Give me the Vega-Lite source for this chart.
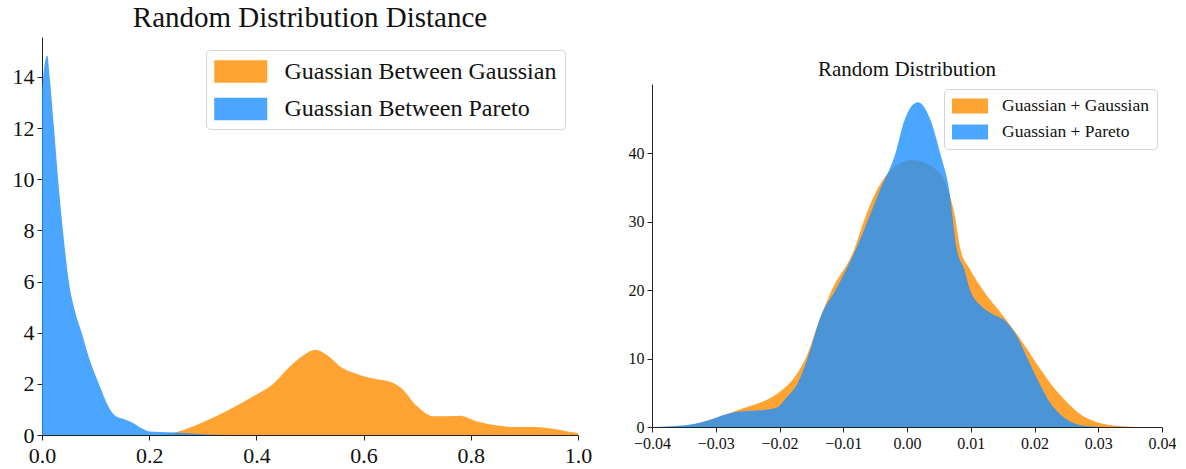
{
  "$schema": "https://vega.github.io/schema/vega-lite/v6.json",
  "background": "white",
  "padding": {"left": 12, "top": 4, "right": 0, "bottom": 0},
  "spacing": 36,
  "config": {
    "font": "Liberation Serif",
    "view": {"stroke": null},
    "axis": {"grid": false, "domainColor": "#222", "tickColor": "#222", "labelColor": "#111", "labelFont": "Liberation Serif", "tickSize": 5, "labelPadding": 3, "title": null, "labelFlush": false},
    "legend": {"labelFont": "Liberation Serif", "labelColor": "#111", "strokeColor": "#d4d4d4", "cornerRadius": 4, "fillColor": "white", "symbolType": "M-1,-0.84L3,-0.84L3,0.84L-1,0.84Z", "symbolOpacity": 0.8, "symbolStrokeWidth": 0, "labelLimit": 500},
    "title": {"font": "Liberation Serif", "fontWeight": "normal", "color": "#111", "baseline": "bottom"}
  },
  "datasets": {
    "left": [
      {"x": 0.22, "density": 0, "series": "Guassian Between Gaussian"},
      {"x": 0.24, "density": 0.05, "series": "Guassian Between Gaussian"},
      {"x": 0.27, "density": 0.24, "series": "Guassian Between Gaussian"},
      {"x": 0.30, "density": 0.5, "series": "Guassian Between Gaussian"},
      {"x": 0.35, "density": 1.0, "series": "Guassian Between Gaussian"},
      {"x": 0.40, "density": 1.58, "series": "Guassian Between Gaussian"},
      {"x": 0.43, "density": 1.97, "series": "Guassian Between Gaussian"},
      {"x": 0.46, "density": 2.63, "series": "Guassian Between Gaussian"},
      {"x": 0.49, "density": 3.15, "series": "Guassian Between Gaussian"},
      {"x": 0.51, "density": 3.33, "series": "Guassian Between Gaussian"},
      {"x": 0.53, "density": 3.15, "series": "Guassian Between Gaussian"},
      {"x": 0.56, "density": 2.63, "series": "Guassian Between Gaussian"},
      {"x": 0.59, "density": 2.37, "series": "Guassian Between Gaussian"},
      {"x": 0.62, "density": 2.2, "series": "Guassian Between Gaussian"},
      {"x": 0.65, "density": 2.08, "series": "Guassian Between Gaussian"},
      {"x": 0.67, "density": 1.84, "series": "Guassian Between Gaussian"},
      {"x": 0.70, "density": 1.12, "series": "Guassian Between Gaussian"},
      {"x": 0.73, "density": 0.73, "series": "Guassian Between Gaussian"},
      {"x": 0.76, "density": 0.73, "series": "Guassian Between Gaussian"},
      {"x": 0.78, "density": 0.75, "series": "Guassian Between Gaussian"},
      {"x": 0.81, "density": 0.54, "series": "Guassian Between Gaussian"},
      {"x": 0.85, "density": 0.37, "series": "Guassian Between Gaussian"},
      {"x": 0.88, "density": 0.31, "series": "Guassian Between Gaussian"},
      {"x": 0.92, "density": 0.31, "series": "Guassian Between Gaussian"},
      {"x": 0.95, "density": 0.25, "series": "Guassian Between Gaussian"},
      {"x": 0.98, "density": 0.14, "series": "Guassian Between Gaussian"},
      {"x": 1.0, "density": 0.08, "series": "Guassian Between Gaussian"},
      {"x": 0.0, "density": 13.5, "series": "Guassian Between Pareto"},
      {"x": 0.005, "density": 14.5, "series": "Guassian Between Pareto"},
      {"x": 0.01, "density": 14.84, "series": "Guassian Between Pareto"},
      {"x": 0.0143, "density": 14.0, "series": "Guassian Between Pareto"},
      {"x": 0.0224, "density": 12.0, "series": "Guassian Between Pareto"},
      {"x": 0.030, "density": 10.0, "series": "Guassian Between Pareto"},
      {"x": 0.039, "density": 8.0, "series": "Guassian Between Pareto"},
      {"x": 0.050, "density": 6.0, "series": "Guassian Between Pareto"},
      {"x": 0.062, "density": 4.8, "series": "Guassian Between Pareto"},
      {"x": 0.074, "density": 4.0, "series": "Guassian Between Pareto"},
      {"x": 0.088, "density": 3.0, "series": "Guassian Between Pareto"},
      {"x": 0.106, "density": 2.0, "series": "Guassian Between Pareto"},
      {"x": 0.127, "density": 1.0, "series": "Guassian Between Pareto"},
      {"x": 0.138, "density": 0.73, "series": "Guassian Between Pareto"},
      {"x": 0.156, "density": 0.6, "series": "Guassian Between Pareto"},
      {"x": 0.17, "density": 0.47, "series": "Guassian Between Pareto"},
      {"x": 0.185, "density": 0.27, "series": "Guassian Between Pareto"},
      {"x": 0.2, "density": 0.14, "series": "Guassian Between Pareto"},
      {"x": 0.22, "density": 0.12, "series": "Guassian Between Pareto"},
      {"x": 0.25, "density": 0.1, "series": "Guassian Between Pareto"},
      {"x": 0.28, "density": 0.06, "series": "Guassian Between Pareto"},
      {"x": 0.31, "density": 0.02, "series": "Guassian Between Pareto"},
      {"x": 0.35, "density": 0.0, "series": "Guassian Between Pareto"}
    ],
    "right": [
      {"x": -0.04, "density": 0, "series": "Guassian + Gaussian"},
      {"x": -0.0375, "density": 0.05, "series": "Guassian + Gaussian"},
      {"x": -0.034, "density": 0.3, "series": "Guassian + Gaussian"},
      {"x": -0.0311, "density": 1.0, "series": "Guassian + Gaussian"},
      {"x": -0.0282, "density": 1.9, "series": "Guassian + Gaussian"},
      {"x": -0.0258, "density": 2.7, "series": "Guassian + Gaussian"},
      {"x": -0.0229, "density": 3.6, "series": "Guassian + Gaussian"},
      {"x": -0.0200, "density": 5.1, "series": "Guassian + Gaussian"},
      {"x": -0.0171, "density": 8.0, "series": "Guassian + Gaussian"},
      {"x": -0.0159, "density": 10.0, "series": "Guassian + Gaussian"},
      {"x": -0.0135, "density": 16.2, "series": "Guassian + Gaussian"},
      {"x": -0.0118, "density": 20.0, "series": "Guassian + Gaussian"},
      {"x": -0.0083, "density": 25.9, "series": "Guassian + Gaussian"},
      {"x": -0.0068, "density": 30.0, "series": "Guassian + Gaussian"},
      {"x": -0.0054, "density": 33.3, "series": "Guassian + Gaussian"},
      {"x": -0.0034, "density": 36.6, "series": "Guassian + Gaussian"},
      {"x": 0.0008, "density": 39.0, "series": "Guassian + Gaussian"},
      {"x": 0.0052, "density": 37.1, "series": "Guassian + Gaussian"},
      {"x": 0.0064, "density": 34.7, "series": "Guassian + Gaussian"},
      {"x": 0.0075, "density": 30.9, "series": "Guassian + Gaussian"},
      {"x": 0.0084, "density": 25.9, "series": "Guassian + Gaussian"},
      {"x": 0.0099, "density": 23.0, "series": "Guassian + Gaussian"},
      {"x": 0.0119, "density": 20.0, "series": "Guassian + Gaussian"},
      {"x": 0.0151, "density": 16.2, "series": "Guassian + Gaussian"},
      {"x": 0.0178, "density": 12.8, "series": "Guassian + Gaussian"},
      {"x": 0.0198, "density": 10.0, "series": "Guassian + Gaussian"},
      {"x": 0.0224, "density": 6.5, "series": "Guassian + Gaussian"},
      {"x": 0.0251, "density": 3.6, "series": "Guassian + Gaussian"},
      {"x": 0.0274, "density": 1.7, "series": "Guassian + Gaussian"},
      {"x": 0.0298, "density": 0.7, "series": "Guassian + Gaussian"},
      {"x": 0.0321, "density": 0.25, "series": "Guassian + Gaussian"},
      {"x": 0.035, "density": 0.05, "series": "Guassian + Gaussian"},
      {"x": 0.038, "density": 0, "series": "Guassian + Gaussian"},
      {"x": -0.04, "density": 0, "series": "Guassian + Pareto"},
      {"x": -0.037, "density": 0.1, "series": "Guassian + Pareto"},
      {"x": -0.034, "density": 0.35, "series": "Guassian + Pareto"},
      {"x": -0.0311, "density": 1.0, "series": "Guassian + Pareto"},
      {"x": -0.0282, "density": 1.9, "series": "Guassian + Pareto"},
      {"x": -0.0258, "density": 2.3, "series": "Guassian + Pareto"},
      {"x": -0.0229, "density": 2.45, "series": "Guassian + Pareto"},
      {"x": -0.0203, "density": 2.9, "series": "Guassian + Pareto"},
      {"x": -0.0191, "density": 4.1, "series": "Guassian + Pareto"},
      {"x": -0.0171, "density": 6.5, "series": "Guassian + Pareto"},
      {"x": -0.0156, "density": 10.0, "series": "Guassian + Pareto"},
      {"x": -0.0135, "density": 16.2, "series": "Guassian + Pareto"},
      {"x": -0.0112, "density": 20.0, "series": "Guassian + Pareto"},
      {"x": -0.008, "density": 26.0, "series": "Guassian + Pareto"},
      {"x": -0.0042, "density": 34.7, "series": "Guassian + Pareto"},
      {"x": -0.0018, "density": 40.0, "series": "Guassian + Pareto"},
      {"x": -0.0004, "density": 44.8, "series": "Guassian + Pareto"},
      {"x": 0.0017, "density": 47.45, "series": "Guassian + Pareto"},
      {"x": 0.0037, "density": 44.8, "series": "Guassian + Pareto"},
      {"x": 0.0052, "density": 40.0, "series": "Guassian + Pareto"},
      {"x": 0.0066, "density": 34.7, "series": "Guassian + Pareto"},
      {"x": 0.0078, "density": 26.0, "series": "Guassian + Pareto"},
      {"x": 0.0090, "density": 23.0, "series": "Guassian + Pareto"},
      {"x": 0.0099, "density": 20.0, "series": "Guassian + Pareto"},
      {"x": 0.0116, "density": 17.7, "series": "Guassian + Pareto"},
      {"x": 0.0134, "density": 16.5, "series": "Guassian + Pareto"},
      {"x": 0.0154, "density": 15.5, "series": "Guassian + Pareto"},
      {"x": 0.0169, "density": 13.8, "series": "Guassian + Pareto"},
      {"x": 0.0189, "density": 10.0, "series": "Guassian + Pareto"},
      {"x": 0.0207, "density": 6.5, "series": "Guassian + Pareto"},
      {"x": 0.0224, "density": 3.6, "series": "Guassian + Pareto"},
      {"x": 0.0242, "density": 1.7, "series": "Guassian + Pareto"},
      {"x": 0.0263, "density": 0.5, "series": "Guassian + Pareto"},
      {"x": 0.0286, "density": 0.1, "series": "Guassian + Pareto"},
      {"x": 0.031, "density": 0, "series": "Guassian + Pareto"}
    ]
  },
  "hconcat": [
    {
      "width": 536,
      "height": 398,
      "title": {"text": "Random Distribution Distance", "fontSize": 29, "offset": 4},
      "data": {"name": "left"},
      "mark": {"type": "area", "interpolate": "monotone", "fillOpacity": 0.8},
      "encoding": {
        "x": {"field": "x", "type": "quantitative", "scale": {"domain": [0, 1], "nice": false, "zero": false}, "axis": {"values": [0, 0.2, 0.4, 0.6, 0.8, 1.0], "format": ".1f", "labelFontSize": 22, "labelPadding": 5}},
        "y": {"field": "density", "type": "quantitative", "stack": null, "scale": {"domain": [0, 15.56], "nice": false}, "axis": {"values": [0, 2, 4, 6, 8, 10, 12, 14], "labelFontSize": 22}},
        "color": {"field": "series", "type": "nominal", "scale": {"domain": ["Guassian Between Gaussian", "Guassian Between Pareto"], "range": ["#FF8C00", "#1E90FF"]}, "legend": {"title": null, "orient": "top-right", "offset": 13, "labelFontSize": 24, "symbolSize": 702, "labelOffset": 43.5, "padding": 8, "rowPadding": 11.5}}
      }
    },
    {
      "spacing": 0,
      "vconcat": [
        {
          "width": 510,
          "height": 22,
          "data": {"values": []},
          "mark": "point"
        },
        {
          "width": 510,
          "height": 343,
          "title": {"text": "Random Distribution", "fontSize": 21, "offset": 4},
          "data": {"name": "right"},
          "mark": {"type": "area", "interpolate": "monotone", "fillOpacity": 0.8},
          "encoding": {
            "x": {"field": "x", "type": "quantitative", "scale": {"domain": [-0.04, 0.04], "nice": false, "zero": false}, "axis": {"values": [-0.04, -0.03, -0.02, -0.01, 0, 0.01, 0.02, 0.03, 0.04], "format": ".2f", "labelFontSize": 16}},
            "y": {"field": "density", "type": "quantitative", "stack": null, "scale": {"domain": [0, 50.1], "nice": false}, "axis": {"values": [0, 10, 20, 30, 40], "labelFontSize": 16}},
            "color": {"field": "series", "type": "nominal", "scale": {"domain": ["Guassian + Gaussian", "Guassian + Pareto"], "range": ["#FF8C00", "#1E90FF"]}, "legend": {"title": null, "orient": "top-right", "offset": 5, "labelFontSize": 17.5, "symbolSize": 324, "labelOffset": 32, "padding": 8, "rowPadding": 8}}
          }
        }
      ],
      "resolve": {"scale": {"color": "independent"}, "legend": {"color": "independent"}}
    }
  ],
  "resolve": {"scale": {"color": "independent"}, "legend": {"color": "independent"}}
}
